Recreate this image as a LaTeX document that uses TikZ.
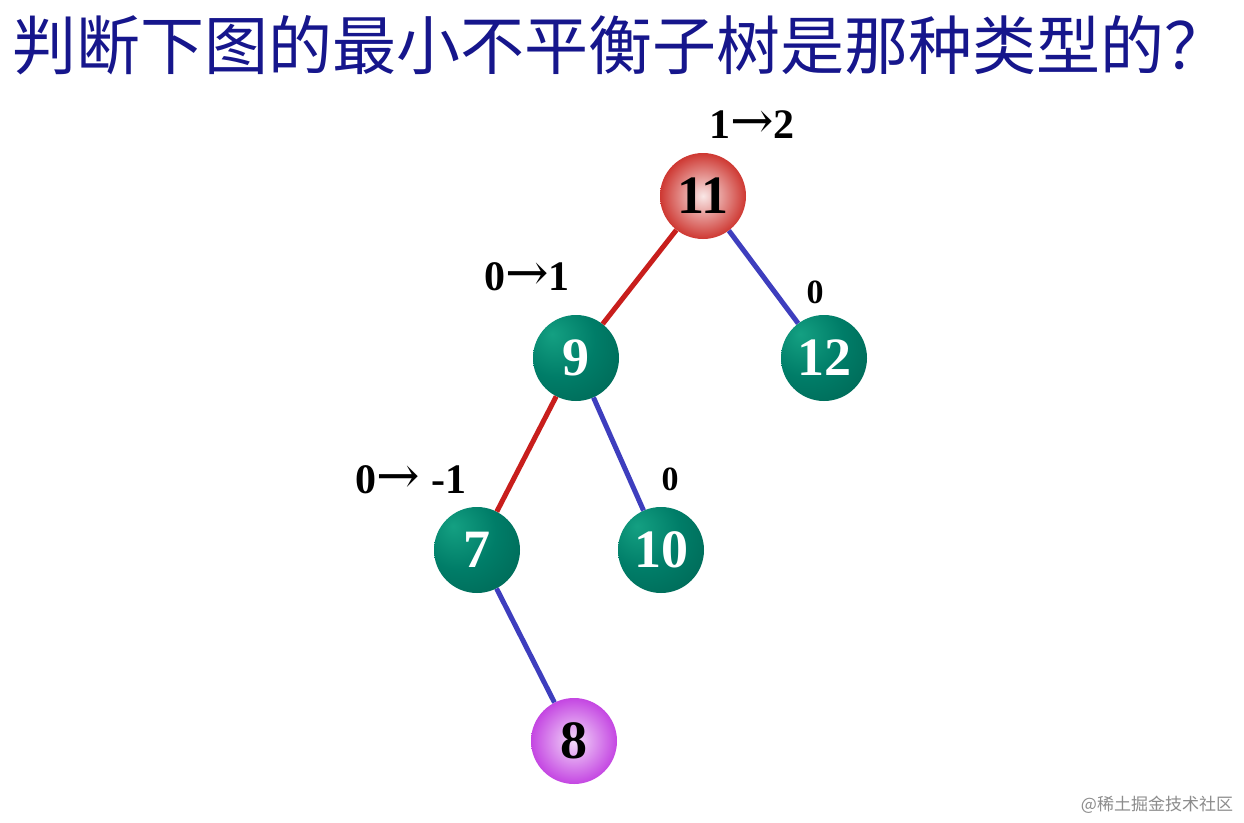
\documentclass[tikz,border=0pt]{standalone}
\usepackage{fontspec}
\setmainfont{Liberation Serif}
\newfontfamily\cjk{Noto Sans CJK SC}
\newfontfamily\arrowfont{DejaVu Serif}
\usepackage{xcolor}
\usepackage{tikz}
\definecolor{titleblue}{RGB}{22,22,140}
\definecolor{edgered}{RGB}{200,30,28}
\definecolor{edgeblue}{RGB}{62,62,190}
\definecolor{tealhi}{RGB}{20,160,130}
\definecolor{ballteal}{RGB}{0,125,104}
\definecolor{tealdark}{RGB}{0,85,70}
\definecolor{ballred}{RGB}{206,56,50}
\definecolor{ballpink}{RGB}{196,70,226}
\pgfdeclareradialshading{tealglow}{\pgfpoint{-14bp}{14bp}}{color(0bp)=(tealhi); color(22bp)=(ballteal); color(62bp)=(tealdark); color(100bp)=(tealdark)}
\newcommand{\becomes}{{\arrowfont\mdseries\fontsize{52}{52}\selectfont →}}

\begin{document}
\begin{tikzpicture}[x=1pt,y=-1pt,
		avl/.style={circle,minimum size=86pt,inner sep=0pt,font=\fontsize{54}{54}\selectfont\bfseries},
		tealball/.style={avl,shading=tealglow,text=white},
		redball/.style={avl,inner color=white!88!ballred,outer color=ballred,text=black},
		pinkball/.style={avl,inner color=white!80!ballpink,outer color=ballpink,text=black},
		bf/.style={font=\fontsize{42}{42}\selectfont\bfseries},
		bfs/.style={font=\fontsize{34}{34}\selectfont\bfseries},
		redline/.style={edgered,line width=5pt},
		blueline/.style={edgeblue,line width=5pt}]
	
	\useasboundingbox[fill=white] (0,0) rectangle (1244,822);
	
	\node[anchor=west,inner sep=0pt,text=titleblue,font=\cjk\fontsize{64}{64}\selectfont] (title) at (12,45) {判断下图的最小不平衡子树是那种类型的？};
	
	\node[redball] (11) at (703,196) {11};
	\node[tealball] (9) at (576,358) {9};
	\node[tealball] (12) at (824,358) {12};
	\node[tealball] (7) at (477,550) {7};
	\node[tealball] (10) at (661,550) {10};
	\node[pinkball] (8) at (574,741) {8};
	
	\draw[redline] (11)--(9);
	\draw[blueline] (11)--(12);
	\draw[redline] (9)--(7);
	\draw[blueline] (9)--(10);
	\draw[blueline] (7)--(8);
	
	\node[bf] (b11) at (752,125) {1\becomes2};
	\node[bf] (b9) at (527,277) {0\becomes1};
	\node[bfs] (b12) at (815,292) {0};
	\node[bf] (b7) at (411,480) {0\becomes\ -1};
	\node[bfs] (b10) at (670,479) {0};
	
	\node[text=black!45,font=\cjk\fontsize{17}{17}\selectfont] (mark) at (1157,805) {@稀土掘金技术社区};
	
\end{tikzpicture}
\end{document}
